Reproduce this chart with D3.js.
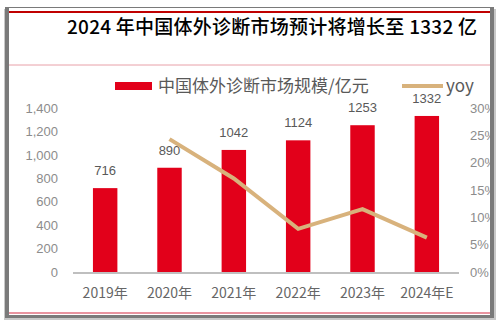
<!DOCTYPE html>
<html>
<head>
<meta charset="utf-8">
<script src="https://cdn.jsdelivr.net/npm/d3@7"></script>
<style>
  body { margin: 0; background: #fff; }
  svg text { font-family: "Noto Sans CJK SC", "Noto Sans", sans-serif; }
</style>
</head>
<body>
<div id="chart"></div>
<script>
// data
var years = ["2019年", "2020年", "2021年", "2022年", "2023年", "2024年E"];
var market = [716, 890, 1042, 1124, 1253, 1332];
var yoyYears = ["2020年", "2021年", "2022年", "2023年", "2024年E"];
var yoy = [24.3, 17.1, 7.9, 11.5, 6.3];
var leftTicks = [0, 200, 400, 600, 800, 1000, 1200, 1400];
var rightTicks = [0, 5, 10, 15, 20, 25, 30];

drawChart();

function drawChart() {
  var svg = d3.select("#chart")
              .append("svg")
              .attr("width", 499)
              .attr("height", 325);

  // frame background with a soft shadow
  svg.append("rect")
      .attr("x", 4).attr("y", 9)
      .attr("width", 492).attr("height", 311)
      .attr("fill", "#c8c8c8");
  svg.append("rect")
      .attr("x", 5).attr("y", 7)
      .attr("width", 489).attr("height", 311)
      .attr("fill", "#7a7a7a");
  svg.append("rect")
      .attr("x", 9).attr("y", 8)
      .attr("width", 481).attr("height", 307)
      .attr("fill", "#fff");

  var plotTop = 108, plotBottom = 272;

  var x = d3.scaleBand().domain(years).range([73, 459])
      .paddingInner(0.62).paddingOuter(0.31);
  var y = d3.scaleLinear().domain([0, 1400]).range([plotBottom, plotTop]);
  var y2 = d3.scaleLinear().domain([0, 30]).range([plotBottom, plotTop]);

  svg.append("clipPath").attr("id", "inner")
    .append("rect").attr("x", 9).attr("y", 8).attr("width", 481).attr("height", 307);

  var g = svg.append("g").attr("clip-path", "url(#inner)");

  // title
  g.append("text")
      .attr("x", 67).attr("y", 34)
      .attr("textLength", 410)
      .attr("font-size", 19)
      .attr("font-weight", 500)
      .attr("fill", "#000")
      .text("2024 年中国体外诊断市场预计将增长至 1332 亿");

  // legend
  g.append("rect")
      .attr("x", 115).attr("y", 82)
      .attr("width", 37).attr("height", 8)
      .attr("fill", "#e2001a");
  g.append("text")
      .attr("x", 158).attr("y", 92)
      .attr("font-size", 17)
      .attr("fill", "#595959")
      .text("中国体外诊断市场规模/亿元");
  g.append("line")
      .attr("x1", 402).attr("x2", 443)
      .attr("y1", 86).attr("y2", 86)
      .attr("stroke", "#d8b27c").attr("stroke-width", 4);
  g.append("text")
      .attr("x", 446).attr("y", 92)
      .attr("font-size", 17)
      .attr("fill", "#595959")
      .text("yoy");

  // left axis
  var axL = g.append("g")
      .attr("transform", "translate(60,0)")
      .call(d3.axisLeft(y).tickValues(leftTicks).tickFormat(d3.format(",")).tickSize(0).tickPadding(2));
  axL.select(".domain").remove();
  axL.selectAll("text")
      .attr("font-size", 13)
      .attr("fill", "#8c8c8c")
      .style("font-family", "'Liberation Sans', sans-serif");

  // right axis
  var axR = g.append("g")
      .attr("transform", "translate(468,0)")
      .call(d3.axisRight(y2).tickValues(rightTicks).tickFormat(function(d) { return d + "%"; }).tickSize(0).tickPadding(2));
  axR.select(".domain").remove();
  axR.selectAll("text")
      .attr("font-size", 13)
      .attr("fill", "#8c8c8c")
      .style("font-family", "'Liberation Sans', sans-serif");

  // bars
  g.selectAll(".bar")
    .data(market)
    .enter().append("rect")
      .attr("class", "bar")
      .attr("x", function(d, i) { return x(years[i]); })
      .attr("y", function(d) { return y(d); })
      .attr("width", x.bandwidth())
      .attr("height", function(d) { return plotBottom - y(d); })
      .attr("fill", "#e2001a");

  // bar labels
  g.selectAll(".lbl")
    .data(market)
    .enter().append("text")
      .attr("class", "lbl")
      .attr("x", function(d, i) { return x(years[i]) + x.bandwidth() / 2; })
      .attr("y", function(d) { return y(d) - 13; })
      .attr("text-anchor", "middle")
      .attr("font-size", 13)
      .attr("fill", "#595959")
      .style("font-family", "'Liberation Sans', sans-serif")
      .text(function(d) { return d; });

  // baseline
  g.append("line")
      .attr("x1", 73).attr("x2", 459)
      .attr("y1", plotBottom + 1).attr("y2", plotBottom + 1)
      .attr("stroke", "#bfbfbf").attr("stroke-width", 2);

  // x labels
  g.selectAll(".xl")
    .data(years)
    .enter().append("text")
      .attr("class", "xl")
      .attr("x", function(d) { return x(d) + x.bandwidth() / 2; })
      .attr("y", 298)
      .attr("text-anchor", "middle")
      .attr("font-size", 14)
      .attr("fill", "#666")
      .text(function(d) { return d; });

  // yoy line
  var line = d3.line()
      .x(function(d, i) { return x(yoyYears[i]) + x.bandwidth() / 2; })
      .y(function(d) { return y2(d); });
  g.append("path")
      .datum(yoy)
      .attr("d", line)
      .attr("fill", "none")
      .attr("stroke", "#d8b27c")
      .attr("stroke-width", 4);

  // red rules
  g.append("line")
      .attr("x1", 9).attr("x2", 490).attr("y1", 12).attr("y2", 12)
      .attr("stroke", "#c00000").attr("stroke-width", 2);
  g.append("line")
      .attr("x1", 9).attr("x2", 490).attr("y1", 65).attr("y2", 65)
      .attr("stroke", "#e8a0a8").attr("stroke-width", 1);
  g.append("line")
      .attr("x1", 9).attr("x2", 490).attr("y1", 313).attr("y2", 313)
      .attr("stroke", "#e07080").attr("stroke-width", 1.5);
}
</script>
</body>
</html>
